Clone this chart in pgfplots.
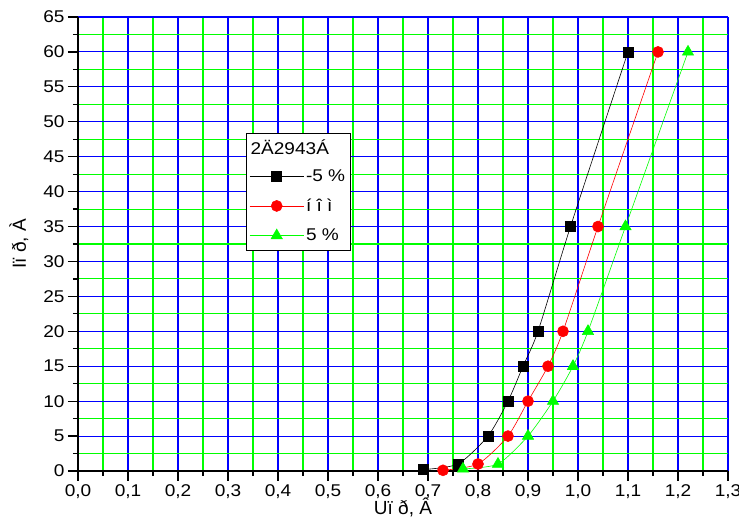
\documentclass[border=0pt]{standalone}
\usepackage{fontspec}
\setmainfont{Liberation Sans}
\newfontfamily\tickfont{Liberation Sans}[FakeStretch=1.12]
\usepackage{pgfplots}
\pgfplotsset{compat=1.18}
\definecolor{gridblue}{RGB}{0,0,255}
\definecolor{gridgreen}{RGB}{0,255,0}
\definecolor{serred}{RGB}{255,0,0}
\definecolor{sergreen}{RGB}{0,255,0}
% long legend sample: line - mark - line
\pgfplotsset{longline/.style={legend image code/.code={%
  \draw[mark repeat=2, mark phase=2]
    plot coordinates {(0pt,0pt) (27pt,0pt) (54pt,0pt)};}}}
\begin{document}
\begin{tikzpicture}
\begin{axis}[
  at={(0,0)}, anchor=south west,
  scale only axis, width=650pt, height=454pt,
  xmin=0, xmax=1.3, ymin=0, ymax=65,
  xtick={0,0.1,0.2,0.3,0.4,0.5,0.6,0.7,0.8,0.9,1.0,1.1,1.2,1.3},
  ytick={0,5,10,15,20,25,30,35,40,45,50,55,60,65},
  minor xtick={0.05,0.15,0.25,0.35,0.45,0.55,0.65,0.75,0.85,0.95,1.05,1.15,1.25},
  minor ytick={2.5,7.5,12.5,17.5,22.5,27.5,32.5,37.5,42.5,47.5,52.5,57.5,62.5},
  axis x line*=bottom, axis y line*=left,
  axis line style={line width=1.4pt, black, -},
  tick align=outside,
  major tick length=10pt, minor tick length=5pt,
  every tick/.style={black, line width=1.2pt},
  grid=both,
  major grid style={gridblue, line width=1.1pt},
  minor grid style={gridgreen, line width=1.1pt},
  /pgf/number format/assume math mode=true,
  xticklabel style={/pgf/number format/.cd, fixed, fixed zerofill, precision=1, use comma},
  yticklabel style={/pgf/number format/.cd, fixed, precision=0},
  tick label style={font=\tickfont\fontsize{17}{20}\selectfont},
  xlabel={Uï ð, Â}, ylabel={Iï ð, À},
  label style={font=\fontsize{19}{22}\selectfont},
  xlabel style={yshift=8pt},
  ylabel style={yshift=8pt},
  clip=false,
  legend style={at={(0.2585,0.7445)}, anchor=north west,
    draw=black, line width=0.8pt, fill=white,
    font=\tickfont\fontsize{17}{20}\selectfont,
    row sep=12pt, inner xsep=3pt, inner ysep=6pt,
    /tikz/every even column/.append style={column sep=6pt}},
  legend cell align=left,
]
% legend heading, set across the sample and text columns
\addlegendimage{legend image code/.code={%
  \node[anchor=west, inner sep=0pt, font=\tickfont\fontsize{17}{20}\selectfont]
    at (0pt,0pt) {\rlap{2Ä2943Á}};}}
\addlegendentry{}
\addplot[black, line width=0.6pt, smooth, tension=0.4, longline,
  mark=square*, mark size=5pt, mark options={fill=black, draw=black}]
  coordinates {(0.69,0.2) (0.76,1) (0.82,5) (0.86,10) (0.89,15) (0.92,20) (0.985,35) (1.10,60)};
\addlegendentry{-5 \%}
\addplot[serred, line width=0.6pt, smooth, tension=0.4, longline,
  mark=*, mark size=5.5pt, mark options={fill=serred, draw=serred}]
  coordinates {(0.73,0.1) (0.80,1) (0.86,5) (0.90,10) (0.94,15) (0.97,20) (1.04,35) (1.16,60)};
\addlegendentry{í î ì}
\addplot[sergreen, line width=0.6pt, smooth, tension=0.4, longline,
  mark=triangle*, mark size=6.5pt, mark options={fill=sergreen, draw=sergreen}]
  coordinates {(0.77,0.3) (0.84,1) (0.90,5) (0.95,10) (0.99,15) (1.02,20) (1.095,35) (1.22,60)};
\addlegendentry{5 \%}
\end{axis}
\pgfresetboundingbox
\path (-78pt,-53pt) rectangle (661pt,471pt);
\end{tikzpicture}
\end{document}
